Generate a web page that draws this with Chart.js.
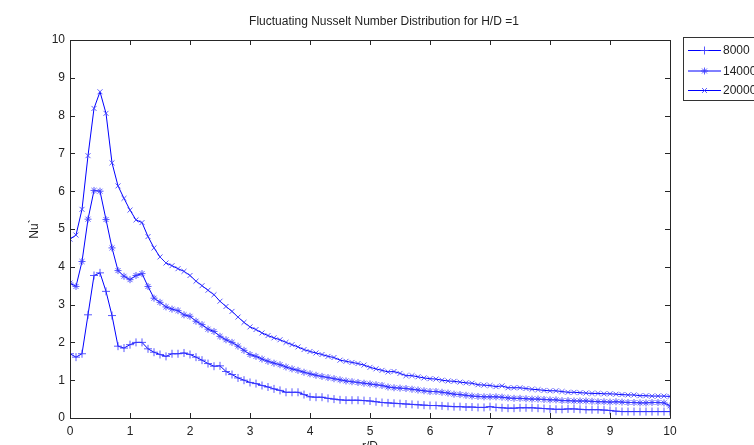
<!DOCTYPE html>
<html>
<head>
<meta charset="utf-8">
<script src="https://cdn.jsdelivr.net/npm/chart.js@4.4.1/dist/chart.umd.min.js"></script>
<style>
html,body{margin:0;padding:0;background:#fff;}
#wrap{width:754px;height:445px;position:relative;}
</style>
</head>
<body>
<div id="wrap"><canvas id="c" width="754" height="445"></canvas></div>
<script>
const titleText = 'Fluctuating Nusselt Number Distribution for H/D =1';
const xLabel = 'r/D';
const yLabel = 'Nu`';
const seriesNames = ['8000', '14000', '20000'];
const xTicks = [0,1,2,3,4,5,6,7,8,9,10];
const yTicks = [0,1,2,3,4,5,6,7,8,9,10];

const rD = [0,0.1,0.2,0.3,0.4,0.5,0.6,0.7,0.8,0.9,
1,1.1,1.2,1.3,1.4,1.5,1.6,1.7,1.8,1.9,
2,2.1,2.2,2.3,2.4,2.5,2.6,2.7,2.8,2.9,
3,3.1,3.2,3.3,3.4,3.5,3.6,3.7,3.8,3.9,
4,4.1,4.2,4.3,4.4,4.5,4.6,4.7,4.8,4.9,
5,5.1,5.2,5.3,5.4,5.5,5.6,5.7,5.8,5.9,
6,6.1,6.2,6.3,6.4,6.5,6.6,6.7,6.8,6.9,
7,7.1,7.2,7.3,7.4,7.5,7.6,7.7,7.8,7.9,
8,8.1,8.2,8.3,8.4,8.5,8.6,8.7,8.8,8.9,
9,9.1,9.2,9.3,9.4,9.5,9.6,9.7,9.8,9.9,10];

const nu8000 = [1.70,1.61,1.70,2.73,3.77,3.84,3.35,2.71,1.90,1.85,
1.94,2.00,2.00,1.83,1.74,1.68,1.63,1.70,1.70,1.72,
1.68,1.61,1.53,1.44,1.37,1.38,1.23,1.15,1.06,1.00,
0.94,0.91,0.86,0.82,0.77,0.73,0.68,0.68,0.68,0.62,
0.56,0.55,0.55,0.52,0.50,0.48,0.47,0.47,0.47,0.46,
0.45,0.43,0.41,0.40,0.39,0.38,0.37,0.36,0.35,0.34,
0.33,0.33,0.32,0.31,0.30,0.30,0.29,0.29,0.28,0.28,
0.30,0.28,0.27,0.26,0.26,0.27,0.27,0.27,0.26,0.25,
0.24,0.23,0.23,0.24,0.24,0.23,0.22,0.22,0.22,0.21,
0.20,0.18,0.17,0.17,0.17,0.17,0.17,0.17,0.17,0.17,0.17];

const nu14000 = [3.57,3.48,4.14,5.26,6.02,6.00,5.25,4.50,3.90,3.75,
3.66,3.77,3.82,3.48,3.17,3.06,2.94,2.88,2.84,2.73,
2.69,2.56,2.47,2.35,2.29,2.16,2.07,2.00,1.90,1.79,
1.68,1.63,1.56,1.50,1.45,1.41,1.35,1.30,1.26,1.21,
1.17,1.13,1.10,1.07,1.04,1.01,0.98,0.96,0.94,0.92,
0.90,0.88,0.86,0.82,0.80,0.79,0.78,0.76,0.74,0.72,
0.70,0.70,0.68,0.66,0.63,0.62,0.60,0.58,0.57,0.56,
0.56,0.56,0.55,0.53,0.52,0.52,0.51,0.50,0.50,0.49,
0.48,0.48,0.46,0.46,0.45,0.45,0.45,0.44,0.43,0.43,
0.42,0.43,0.42,0.41,0.41,0.40,0.40,0.41,0.41,0.40,0.32];

const nu20000 = [4.73,4.84,5.52,6.94,8.19,8.63,8.06,6.75,6.14,5.81,
5.50,5.24,5.17,4.80,4.50,4.26,4.10,4.03,3.95,3.88,
3.77,3.62,3.50,3.38,3.26,3.09,2.95,2.82,2.67,2.53,
2.41,2.34,2.25,2.18,2.12,2.07,2.00,1.94,1.88,1.81,
1.76,1.72,1.68,1.63,1.60,1.53,1.50,1.47,1.44,1.40,
1.34,1.30,1.26,1.22,1.23,1.18,1.12,1.12,1.09,1.06,
1.04,1.03,1.00,0.98,0.97,0.95,0.93,0.92,0.88,0.87,
0.86,0.83,0.85,0.80,0.80,0.80,0.78,0.76,0.75,0.73,
0.72,0.72,0.70,0.68,0.68,0.67,0.66,0.65,0.65,0.64,
0.64,0.63,0.62,0.61,0.61,0.59,0.59,0.58,0.58,0.58,0.57];

const FONT = "'Liberation Sans', Arial, sans-serif";
const BLUE = '#0000ff';
const MARK = 'rgba(60,60,255,0.85)';

function pts(ys){ return rD.map((x,i)=>({x:x, y:ys[i]})); }

const styles = [
  {pointStyle:'cross', radius:4},
  {pointStyle:'star', radius:3.5},
  {pointStyle:'crossRot', radius:3.5}
];
const seriesData = [nu8000, nu14000, nu20000];

const datasets = seriesNames.map((name,i)=>({
  label: name,
  data: pts(seriesData[i]),
  borderColor: BLUE,
  backgroundColor: BLUE,
  borderWidth: 1,
  pointStyle: styles[i].pointStyle,
  pointRadius: styles[i].radius,
  pointBorderColor: MARK,
  pointBorderWidth: 1,
  pointHoverRadius: styles[i].radius,
  tension: 0,
  fill: false
}));

const boxPlugin = {
  id: 'boxTicks',
  afterDatasetsDraw(chart){
    const ctx = chart.ctx;
    const a = chart.chartArea;
    const xs = chart.scales.x, ys = chart.scales.y;
    ctx.save();
    ctx.strokeStyle = '#262626';
    ctx.lineWidth = 1;
    ctx.beginPath();
    ctx.rect(Math.round(a.left)+0.5, Math.round(a.top)+0.5, Math.round(a.right-a.left), Math.round(a.bottom-a.top));
    ctx.stroke();
    const L = 5;
    ctx.beginPath();
    xTicks.forEach(v=>{
      const px = Math.round(xs.getPixelForValue(v))+0.5;
      ctx.moveTo(px, a.bottom); ctx.lineTo(px, a.bottom-L);
      ctx.moveTo(px, a.top); ctx.lineTo(px, a.top+L);
    });
    yTicks.forEach(v=>{
      const py = Math.round(ys.getPixelForValue(v))+0.5;
      ctx.moveTo(a.left, py); ctx.lineTo(a.left+L, py);
      ctx.moveTo(a.right, py); ctx.lineTo(a.right-L, py);
    });
    ctx.stroke();
    ctx.restore();
  },
  afterDraw(chart){
    const ctx = chart.ctx;
    ctx.save();
    // title
    ctx.font = "12px " + FONT;
    ctx.fillStyle = '#222';
    ctx.textAlign = 'center';
    ctx.textBaseline = 'middle';
    ctx.fillText(titleText, 384, 22);
    // legend box
    const bx = 683.5, by = 37.5, bw = 75, bh = 63;
    ctx.fillStyle = '#fff';
    ctx.fillRect(bx, by, bw, bh);
    ctx.strokeStyle = '#333';
    ctx.lineWidth = 1;
    ctx.strokeRect(bx, by, bw, bh);
    ctx.textBaseline = 'middle';
    ctx.textAlign = 'left';
    const rows = [50, 70.5, 90];
    chart.data.datasets.forEach((ds,i)=>{
      const y = rows[i];
      ctx.strokeStyle = BLUE;
      ctx.beginPath();
      ctx.moveTo(688, y+0.5); ctx.lineTo(721, y+0.5);
      ctx.stroke();
      ctx.strokeStyle = MARK;
      Chart.helpers.drawPoint(ctx, {pointStyle: ds.pointStyle, radius: ds.pointRadius, borderWidth:1}, 704.5, y+0.5);
      ctx.fillStyle = '#222';
      ctx.fillText(ds.label, 723, y+1);
    });
    ctx.restore();
  }
};

Chart.defaults.font.family = FONT;
Chart.defaults.font.size = 12;
Chart.defaults.color = '#222';

new Chart(document.getElementById('c'), {
  type: 'line',
  data: { datasets },
  plugins: [boxPlugin],
  options: {
    responsive: false,
    animation: false,
    events: [],
    layout: { padding: { top: 40, right: 84, bottom: 0, left: 0 } },
    plugins: {
      legend: { display: false },
      tooltip: { enabled: false },
      title: { display: false }
    },
    scales: {
      x: {
        type: 'linear',
        min: 0, max: 10,
        afterFit(s){ s.height = 27; },
        afterBuildTicks(s){ s.ticks = xTicks.map(v=>({value:v})); },
        grid: { display: false, drawTicks: false },
        border: { display: false },
        ticks: { padding: 6, color: '#222', maxRotation: 0, font:{size:12} },
        title: { display: true, text: xLabel, color: '#222', font:{size:12}, padding: { top: 0, bottom: -9 } }
      },
      y: {
        type: 'linear',
        min: 0, max: 10,
        afterFit(s){ s.width = 70; },
        afterBuildTicks(s){ s.ticks = yTicks.map(v=>({value:v})); },
        grid: { display: false, drawTicks: false },
        border: { display: false },
        ticks: { padding: 5, color: '#222', font:{size:12} },
        title: { display: true, text: yLabel, color: '#222', font:{size:12}, padding: { top: 27, bottom: 0 } }
      }
    }
  }
});
</script>
</body>
</html>
